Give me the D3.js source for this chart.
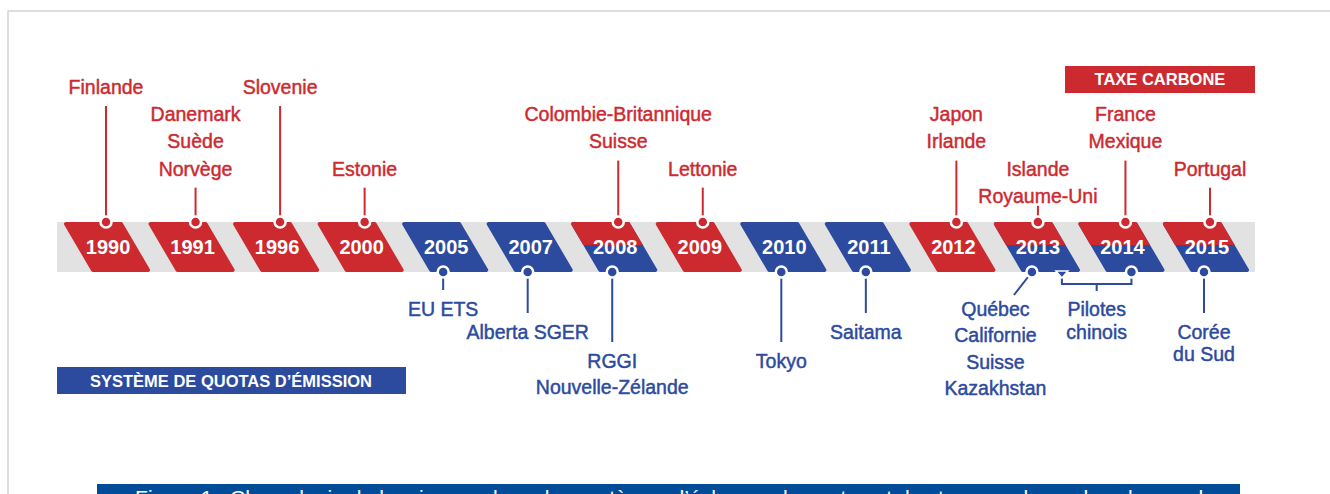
<!DOCTYPE html>
<html>
<head>
<meta charset="utf-8">
<script src="https://cdn.jsdelivr.net/npm/d3@7"></script>
<style>
  body { margin: 0; background: #fff; }
  svg { display: block; }
</style>
</head>
<body>
<script>
// timeline years (one tab per year)
const years = ["1990", "1991", "1996", "2000", "2005", "2007", "2008", "2009", "2010", "2011", "2012", "2013", "2014", "2015"];

// carbon tax introductions (red, above the band)
const carbonTax = [
  { year: "1990", names: ["Finlande"] },
  { year: "1991", names: ["Danemark", "Suède", "Norvège"] },
  { year: "1996", names: ["Slovenie"] },
  { year: "2000", names: ["Estonie"] },
  { year: "2008", names: ["Colombie-Britannique", "Suisse"] },
  { year: "2009", names: ["Lettonie"] },
  { year: "2012", names: ["Japon", "Irlande"] },
  { year: "2013", names: ["Islande", "Royaume-Uni"] },
  { year: "2014", names: ["France", "Mexique"] },
  { year: "2015", names: ["Portugal"] }
];

// emission trading systems (blue, below the band)
const emissionTrading = [
  { year: "2005", names: ["EU ETS"] },
  { year: "2007", names: ["Alberta SGER"] },
  { year: "2008", names: ["RGGI", "Nouvelle-Zélande"] },
  { year: "2010", names: ["Tokyo"] },
  { year: "2011", names: ["Saitama"] },
  { year: "2013", names: ["Québec", "Californie", "Suisse", "Kazakhstan"] },
  { year: "2015", names: ["Corée", "du Sud"] }
];

// chinese pilots span two years
const chinaPilots = { years: ["2013", "2014"], names: ["Pilotes", "chinois"] };

const legendTax = "TAXE CARBONE";
const legendEts = "SYSTÈME DE QUOTAS D’ÉMISSION";
const caption = "Figure 1 : Chronologie de la mise en place des systèmes d’échange de quotas et des taxes carbone dans le monde";

// ---- layout ----
const W = 1330, H = 494;
const RED = "#cd2a30", BLUE = "#2c4a9e", GREY = "#e2e2e2", NAVY = "#004c98";
const bandTop = 222, bandBot = 272, split = 245;
const font = "'Liberation Sans', Arial, Helvetica, sans-serif";

// tier rows for labels (text centre y)
const topRows = [87, 114.5, 141.5, 168.7, 195.8];
const topTier = { "1990": 0, "1991": 1, "1996": 0, "2000": 3, "2008": 1, "2009": 3, "2012": 1, "2013": 3, "2014": 1, "2015": 3 };
const topShift = { "1990": -5, "2013": -3 };
const botRows = [309, 332, 361];
const botTier = { "2005": 0, "2007": 1, "2008": 2, "2010": 2, "2011": 1, "2013": 0, "2015": 1 };

const svg = d3.select("body").append("svg")
  .attr("width", W)
  .attr("height", H);

// frame
svg.append("path")
  .attr("d", "M8,494V11H1330")
  .attr("fill", "none")
  .attr("stroke", "#d2d2d2")
  .attr("stroke-width", 1.5);

var x = d3.scaleBand().domain(years).range([65.75, 1249.25]).padding(0);
const cx = (y) => x(y) + x.bandwidth() / 2;

const taxSet = new Set(carbonTax.map(d => d.year));
const etsSet = new Set(emissionTrading.map(d => d.year).concat(chinaPilots.years));

// grey band
svg.append("rect")
  .attr("x", 57).attr("y", bandTop)
  .attr("width", 1198).attr("height", bandBot - bandTop)
  .attr("fill", GREY);

svg.append("clipPath").attr("id", "topHalf")
  .append("rect").attr("x", 0).attr("y", 0).attr("width", W).attr("height", split);

// slanted tab shape
const tab = (c) => {
  const p = d3.path();
  p.moveTo(c - 42, bandTop + 2);
  p.lineTo(c + 13, bandTop + 2);
  p.lineTo(c + 40, bandBot - 2);
  p.lineTo(c - 15, bandBot - 2);
  p.closePath();
  return p.toString();
};

const tabs = svg.append("g").selectAll("g")
  .data(years)
  .join("g");

tabs.append("path")
  .attr("d", d => tab(cx(d)))
  .attr("fill", d => etsSet.has(d) ? BLUE : RED)
  .attr("stroke", d => etsSet.has(d) ? BLUE : RED)
  .attr("stroke-width", 4)
  .attr("stroke-linejoin", "round");

tabs.filter(d => etsSet.has(d) && taxSet.has(d))
  .append("path")
  .attr("d", d => tab(cx(d)))
  .attr("clip-path", "url(#topHalf)")
  .attr("fill", RED)
  .attr("stroke", RED)
  .attr("stroke-width", 4)
  .attr("stroke-linejoin", "round");

tabs.append("text")
  .attr("x", d => cx(d))
  .attr("y", 247)
  .attr("dy", "0.35em")
  .attr("text-anchor", "middle")
  .attr("font-family", font)
  .attr("font-weight", "bold")
  .attr("font-size", 20)
  .attr("fill", "#fff")
  .text(d => d);

// helper for multi-line labels
function label(g, xPos, y0, lines, lh, color) {
  lines.forEach((t, i) => {
    g.append("text")
      .attr("x", xPos)
      .attr("y", y0 + i * lh)
      .attr("dy", "0.35em")
      .attr("text-anchor", "middle")
      .attr("font-family", font)
      .attr("font-size", 19.5)
      .attr("fill", color)
      .attr("stroke", color)
      .attr("stroke-width", 0.45)
      .text(t);
  });
}

// carbon tax labels
const taxG = svg.append("g");
carbonTax.forEach(d => {
  const px = cx(d.year) + 3 + (topShift[d.year] || 0);
  const y0 = topRows[topTier[d.year]];
  const last = y0 + (d.names.length - 1) * 27.1;
  const gap = d.year === "2013" ? 10 : 19;
  label(taxG, px, y0, d.names, 27.1, RED);
  taxG.append("line")
    .attr("x1", px).attr("x2", px)
    .attr("y1", last + gap).attr("y2", bandTop)
    .attr("stroke", RED).attr("stroke-width", 2);
  taxG.append("circle")
    .attr("cx", px).attr("cy", bandTop)
    .attr("r", 5.5)
    .attr("fill", RED)
    .attr("stroke", "#fff").attr("stroke-width", 2.5);
});

// emission trading labels
const etsG = svg.append("g");
emissionTrading.forEach(d => {
  const y0 = botRows[botTier[d.year]];
  const lh = d.year === "2015" ? 22.3 : 26.5;
  if (d.year === "2013") {
    const px = cx(d.year) - 6;
    label(etsG, cx(d.year) - 42.5, y0, d.names, lh, BLUE);
    etsG.append("line")
      .attr("x1", px).attr("y1", bandBot)
      .attr("x2", px - 18).attr("y2", y0 - 14)
      .attr("stroke", BLUE).attr("stroke-width", 2);
    etsG.append("circle")
      .attr("cx", px).attr("cy", bandBot).attr("r", 5.5)
      .attr("fill", BLUE).attr("stroke", "#fff").attr("stroke-width", 2.5);
    return;
  }
  const px = cx(d.year) - 3;
  label(etsG, px, y0, d.names, lh, BLUE);
  etsG.append("line")
    .attr("x1", px).attr("x2", px)
    .attr("y1", bandBot).attr("y2", y0 - 19)
    .attr("stroke", BLUE).attr("stroke-width", 2);
  etsG.append("circle")
    .attr("cx", px).attr("cy", bandBot).attr("r", 5.5)
    .attr("fill", BLUE).attr("stroke", "#fff").attr("stroke-width", 2.5);
});

// chinese pilots bracket
const ax = cx(chinaPilots.years[0]) + 24;
const bx = cx(chinaPilots.years[1]) + 9;
const mx = (ax + bx) / 2;
etsG.append("path")
  .attr("d", `M${ax},${bandBot + 4}V284H${bx}V${bandBot}M${mx},284V291`)
  .attr("fill", "none")
  .attr("stroke", BLUE).attr("stroke-width", 2);
etsG.append("path")
  .attr("d", `M${ax - 6},${bandBot - 1}H${ax + 6}L${ax},${bandBot + 6}Z`)
  .attr("fill", BLUE).attr("stroke", "#fff").attr("stroke-width", 1.5);
etsG.append("circle")
  .attr("cx", bx).attr("cy", bandBot).attr("r", 5.5)
  .attr("fill", BLUE).attr("stroke", "#fff").attr("stroke-width", 2.5);
label(etsG, mx, 309, chinaPilots.names, 22.7, BLUE);

// legend boxes
svg.append("rect")
  .attr("x", 1065).attr("y", 66).attr("width", 190).attr("height", 27)
  .attr("fill", RED);
svg.append("text")
  .attr("x", 1160).attr("y", 79.5).attr("dy", "0.35em")
  .attr("text-anchor", "middle")
  .attr("font-family", font).attr("font-weight", "bold").attr("font-size", 16.5)
  .attr("fill", "#fff")
  .text(legendTax);

svg.append("rect")
  .attr("x", 57).attr("y", 367).attr("width", 349).attr("height", 27)
  .attr("fill", BLUE);
svg.append("text")
  .attr("x", 231).attr("y", 381).attr("dy", "0.35em")
  .attr("text-anchor", "middle")
  .attr("font-family", font).attr("font-weight", "bold").attr("font-size", 16.5)
  .attr("fill", "#fff")
  .text(legendEts);

// caption (cut off by the page edge, as in the source)
svg.append("rect")
  .attr("x", 97).attr("y", 484).attr("width", 1143).attr("height", 30)
  .attr("fill", NAVY);
svg.append("text")
  .attr("x", 675).attr("y", 505)
  .attr("text-anchor", "middle")
  .attr("font-family", font).attr("font-size", 21)
  .attr("fill", "#fff")
  .attr("textLength", 1080)
  .attr("lengthAdjust", "spacingAndGlyphs")
  .text(caption);
</script>
</body>
</html>
